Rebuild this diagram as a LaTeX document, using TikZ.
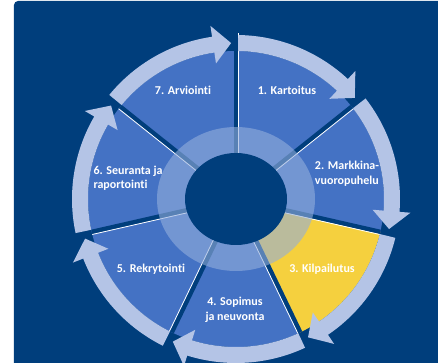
\documentclass[tikz,border=0pt]{standalone}
\usepackage{fontspec}
\setmainfont[Ligatures=NoCommon]{Carlito}
\definecolor{bgblue}{RGB}{0,62,124}
\definecolor{secblue}{RGB}{68,114,196}
\definecolor{secyellow}{RGB}{245,208,62}
\definecolor{arrowblue}{RGB}{180,196,230}
\definecolor{ringblue}{RGB}{147,174,220}

\begin{document}
\begin{tikzpicture}[x=1pt,y=1pt,
  lbl/.style={text=white,font=\bfseries\fontsize{12}{14.5}\selectfont,inner sep=0pt,align=center},
  gap/.style={bgblue,line width=4.5},
  edge/.style={white,line width=0.8}]
\useasboundingbox (-236,-164) rectangle (202,199);
\fill [bgblue,rounded corners=4] (-222,-190) rectangle (230,198);
\fill [secblue] (0,0) -- (90:148) arc (90:38.571:148) -- cycle;
\fill [secblue] (0,0) -- (38.571:148) arc (38.571:-12.857:148) -- cycle;
\fill [secyellow] (0,0) -- (-12.857:148) arc (-12.857:-64.286:148) -- cycle;
\fill [secblue] (0,0) -- (-64.286:148) arc (-64.286:-115.714:148) -- cycle;
\fill [secblue] (0,0) -- (-115.714:148) arc (-115.714:-167.143:148) -- cycle;
\fill [secblue] (0,0) -- (192.857:148) arc (192.857:141.429:148) -- cycle;
\fill [secblue] (0,0) -- (141.429:148) arc (141.429:90:148) -- cycle;
\draw [gap] (0,0) -- (90:148);
\draw [edge] ([shift={(0:2.6)}]0,0) -- ([shift={(0:2.6)}]90:166);
\draw [gap] (0,0) -- (38.571:148);
\draw [edge] ([shift={(-51.429:2.6)}]0,0) -- ([shift={(-51.429:2.6)}]38.571:148);
\draw [gap] (0,0) -- (-12.857:148);
\draw [edge] ([shift={(-102.857:2.6)}]0,0) -- ([shift={(-102.857:2.6)}]-12.857:148);
\draw [gap] (0,0) -- (-64.286:148);
\draw [edge] ([shift={(-154.286:2.6)}]0,0) -- ([shift={(-154.286:2.6)}]-64.286:148);
\draw [gap] (0,0) -- (-115.714:148);
\draw [edge] ([shift={(154.286:2.6)}]0,0) -- ([shift={(154.286:2.6)}]-115.714:148);
\draw [gap] (0,0) -- (-167.143:148);
\draw [edge] ([shift={(-77.143:2.6)}]0,0) -- ([shift={(-77.143:2.6)}]-167.143:148);
\draw [gap] (0,0) -- (141.429:148);
\draw [edge] ([shift={(-128.571:2.6)}]0,0) -- ([shift={(-128.571:2.6)}]141.429:148);
\fill [arrowblue] (89.2:148) arc (89.2:47:148) -- (47:137) -- (40.4:156) -- (47:175) -- (47:164) arc (47:89.2:164) -- cycle;
\fill [arrowblue] (37.8:148) arc (37.8:-4.5:148) -- (-4.5:137) -- (-11.1:156) -- (-4.5:175) -- (-4.5:164) arc (-4.5:37.8:164) -- cycle;
\fill [arrowblue] (-13.7:148) arc (-13.7:-55.9:148) -- (-55.9:137) -- (-62.5:156) -- (-55.9:175) -- (-55.9:164) arc (-55.9:-13.7:164) -- cycle;
\fill [arrowblue] (-65.1:148) arc (-65.1:-107.3:148) -- (-107.3:137) -- (-113.9:156) -- (-107.3:175) -- (-107.3:164) arc (-107.3:-65.1:164) -- cycle;
\fill [arrowblue] (-116.5:148) arc (-116.5:-158.7:148) -- (-158.7:137) -- (-165.3:156) -- (-158.7:175) -- (-158.7:164) arc (-158.7:-116.5:164) -- cycle;
\fill [arrowblue] (192:148) arc (192:149.8:148) -- (149.8:137) -- (143.2:156) -- (149.8:175) -- (149.8:164) arc (149.8:192:164) -- cycle;
\fill [arrowblue] (140.6:148) arc (140.6:98.4:148) -- (98.4:137) -- (91.8:156) -- (98.4:175) -- (98.4:164) arc (98.4:140.6:164) -- cycle;
\fill [ringblue,fill opacity=0.6] (0,0) ellipse (79 and 72);
\fill [bgblue] (0,0) ellipse (51 and 46);
\draw (51,109) node [lbl] (kartoitus) {1. Kartoitus};
\draw (111,25.5) node [lbl,align=left] (vuoropuhelu) {2. Markkina-\\vuoropuhelu};
\draw (86,-70) node [lbl] (kilpailutus) {3. Kilpailutus};
\draw (-1,-111) node [lbl] (sopimus) {4. Sopimus\\ja neuvonta};
\draw (-85,-70) node [lbl] (rekrytointi) {5. Rekrytointi};
\draw (-108,21) node [lbl,align=left] (seuranta) {6. Seuranta ja\\raportointi};
\draw (-53,109) node [lbl] (arviointi) {7. Arviointi};
\end{tikzpicture}
\end{document}
